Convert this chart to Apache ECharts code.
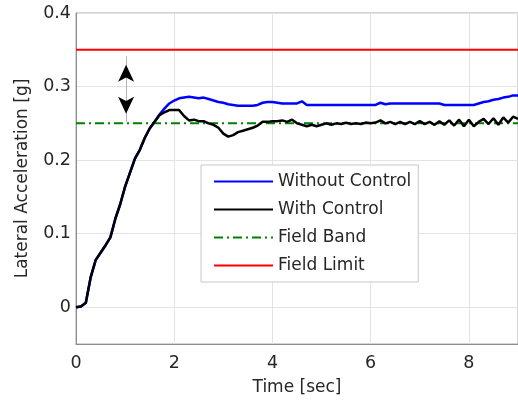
<!DOCTYPE html>
<html>
<head>
<meta charset="utf-8">
<script src="https://cdn.jsdelivr.net/npm/echarts@6/dist/echarts.min.js"></script>
<style>html,body{margin:0;padding:0;background:#fff}#c{width:518px;height:401px}</style>
</head>
<body>
<div id="c"></div>
<script>
const timeSec = [0.0,0.1,0.2,0.3,0.4,0.5,0.6,0.7,0.8,0.9,1.0,1.1,1.2,1.3,1.4,1.5,1.6,1.7,1.8,1.9,2.0,2.1,2.2,2.3,2.4,2.5,2.6,2.7,2.8,2.9,3.0,3.1,3.2,3.3,3.4,3.5,3.6,3.7,3.8,3.9,4.0,4.1,4.2,4.3,4.4,4.5,4.6,4.7,4.8,4.9,5.0,5.1,5.2,5.3,5.4,5.5,5.6,5.7,5.8,5.9,6.0,6.1,6.2,6.3,6.4,6.5,6.6,6.7,6.8,6.9,7.0,7.1,7.2,7.3,7.4,7.5,7.6,7.7,7.8,7.9,8.0,8.1,8.2,8.3,8.4,8.5,8.6,8.7,8.8,8.9,9.0];
const withoutControl = [0.000,0.001,0.006,0.041,0.064,0.074,0.084,0.095,0.120,0.140,0.164,0.183,0.202,0.214,0.230,0.243,0.252,0.262,0.270,0.277,0.281,0.284,0.285,0.286,0.285,0.284,0.285,0.283,0.281,0.279,0.278,0.276,0.275,0.274,0.274,0.274,0.274,0.275,0.278,0.279,0.279,0.278,0.277,0.277,0.277,0.277,0.280,0.275,0.275,0.275,0.275,0.275,0.275,0.275,0.275,0.275,0.275,0.275,0.275,0.275,0.275,0.275,0.278,0.276,0.277,0.277,0.277,0.277,0.277,0.277,0.277,0.277,0.277,0.277,0.277,0.275,0.275,0.275,0.275,0.275,0.275,0.275,0.277,0.279,0.280,0.282,0.283,0.285,0.286,0.288,0.288];
const withControl = [0.000,0.001,0.006,0.041,0.064,0.074,0.084,0.095,0.120,0.140,0.164,0.183,0.202,0.214,0.230,0.243,0.252,0.261,0.265,0.268,0.268,0.268,0.260,0.254,0.255,0.253,0.253,0.250,0.248,0.244,0.236,0.232,0.234,0.238,0.240,0.242,0.244,0.247,0.252,0.252,0.253,0.253,0.254,0.252,0.255,0.250,0.248,0.246,0.248,0.246,0.248,0.250,0.248,0.250,0.249,0.251,0.249,0.250,0.249,0.251,0.250,0.251,0.254,0.250,0.252,0.249,0.252,0.249,0.252,0.249,0.253,0.249,0.252,0.248,0.253,0.248,0.254,0.247,0.255,0.246,0.255,0.246,0.252,0.256,0.249,0.257,0.248,0.258,0.251,0.259,0.256];
const fieldBand = 0.25;
const fieldLimit = 0.35;
const xTicks = [0, 2, 4, 6, 8];
const yTicks = [0, 0.1, 0.2, 0.3, 0.4];
const arrowTime = 1.02;
const arrowEnds = [0.341, 0.252];
const arrowHeads = [0.3295, 0.2629];

const font = 'DejaVu Sans, sans-serif';
const pair = (vals) => timeSec.map((t, i) => [t, vals[i]]);
const chart = echarts.init(document.getElementById('c'));
chart.setOption({
  animation: false,
  backgroundColor: '#fff',
  grid: { left: 76, right: 0, top: 13, bottom: 57, show: true, borderColor: '#a8a8a8', borderWidth: 1 },
  xAxis: {
    type: 'value', min: 0, max: 9,
    name: 'Time [sec]', nameLocation: 'middle', nameGap: 35,
    nameTextStyle: { fontFamily: font, fontSize: 17, color: '#262626' },
    axisLine: { show: true, onZero: false, lineStyle: { color: '#8c8c8c', width: 1 } },
    axisTick: { show: false, customValues: xTicks },
    axisLabel: { customValues: xTicks, fontFamily: font, fontSize: 17.5, color: '#262626', margin: 10 },
    splitLine: { show: true, lineStyle: { color: '#e3e3e3', width: 1 } }
  },
  yAxis: {
    type: 'value', min: -0.05, max: 0.4,
    name: 'Lateral Acceleration [g]', nameLocation: 'middle', nameGap: 45,
    nameTextStyle: { fontFamily: font, fontSize: 17, color: '#262626' },
    axisLine: { show: true, onZero: false, lineStyle: { color: '#8c8c8c', width: 1 } },
    axisTick: { show: false, customValues: yTicks },
    axisLabel: { customValues: yTicks, fontFamily: font, fontSize: 17.5, color: '#262626', margin: 5 },
    splitLine: { show: true, lineStyle: { color: '#e3e3e3', width: 1 } }
  },
  legend: {
    data: ['Without Control', 'With Control', 'Field Band', 'Field Limit'],
    orient: 'vertical', left: 201, top: 165,
    padding: [8, 7, 8, 12],
    itemWidth: 59, itemHeight: 18, itemGap: 11,
    backgroundColor: '#fff', borderColor: '#c8c8c8', borderWidth: 1,
    itemStyle: { opacity: 0 },
    textStyle: { fontFamily: font, fontSize: 17, color: '#262626', width: 135 }
  },
  series: [
    {
      name: 'Field Limit', type: 'line', symbol: 'none',
      data: [[0, fieldLimit], [9, fieldLimit]],
      lineStyle: { color: '#ff0000', width: 2 }, itemStyle: { color: '#ff0000' }, z: 2,
      markLine: {
        silent: true, symbol: ['none', 'none'], label: { show: false },
        lineStyle: { color: '#b4b4b4', width: 1, type: 'solid' },
        data: [[{ coord: [arrowTime, arrowEnds[0]] }, { coord: [arrowTime, arrowEnds[1]] }]]
      },
      markPoint: {
        silent: true, symbol: 'arrow', symbolSize: [12, 17], label: { show: false },
        itemStyle: { color: '#000' },
        data: [
          { coord: [arrowTime, arrowHeads[0]], symbolRotate: 0 },
          { coord: [arrowTime, arrowHeads[1]], symbolRotate: 180 }
        ]
      }
    },
    {
      name: 'Field Band', type: 'line', symbol: 'none',
      data: [[0, fieldBand], [9, fieldBand]],
      lineStyle: { color: '#008000', width: 2, type: [9, 4, 2, 4] }, itemStyle: { color: '#008000' }, z: 3
    },
    {
      name: 'Without Control', type: 'line', symbol: 'none',
      data: pair(withoutControl),
      lineStyle: { color: '#0000ff', width: 2.5 }, itemStyle: { color: '#0000ff' }, z: 4
    },
    {
      name: 'With Control', type: 'line', symbol: 'none',
      data: pair(withControl),
      lineStyle: { color: '#000000', width: 2.5 }, itemStyle: { color: '#000000' }, z: 5
    }
  ]
});
</script>
</body>
</html>
